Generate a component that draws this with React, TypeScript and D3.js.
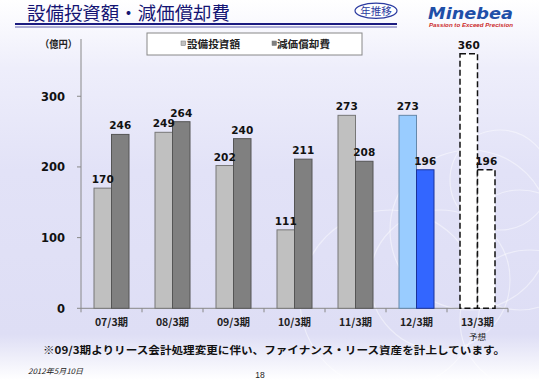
import React from "react";
import * as d3 from "d3";

const categories = ["07/3期", "08/3期", "09/3期", "10/3期", "11/3期", "12/3期", "13/3期"];
const capex = [170, 249, 202, 111, 273, 273, 360];
const depreciation = [246, 264, 240, 211, 208, 196, 196];
const yTicks = [0, 100, 200, 300];
const seriesNames = ["設備投資額", "減価償却費"];

const W = 539;
const H = 380;
const JP = "'Noto Sans CJK JP', sans-serif";
const NUM = "'DejaVu Sans', Verdana, sans-serif";

export default function App() {
  const x = d3.scaleBand<string>().domain(categories).range([81, 508]).paddingInner(0).paddingOuter(0);
  const y = d3.scaleLinear().domain([0, 381]).range([308.3, 39]);
  const bw = 17.5;
  const styleFor = (i: number, s: number) => {
    if (i === 5) return s === 0 ? { fill: "#99ccff", stroke: "#6688aa", dash: "" } : { fill: "#3366ff", stroke: "#1a3399", dash: "" };
    if (i === 6) return { fill: "#ffffff", stroke: "#111111", dash: "6,3" };
    return s === 0 ? { fill: "#c0c0c0", stroke: "#777777", dash: "" } : { fill: "#808080", stroke: "#555555", dash: "" };
  };
  const circles = [
    [470, 230, 80], [520, 250, 60], [440, 280, 70], [500, 180, 50], [390, 300, 90], [530, 320, 70],
  ];
  const bars = categories.flatMap((c, i) =>
    [capex[i], depreciation[i]].map((v, s) => ({ c, i, s, v, bx: x(c)! + x.bandwidth() / 2 - bw + s * bw }))
  );
  return (
    <svg width={W} height={H} style={{ position: "absolute", left: 0, top: 0 }}>
      <defs>
        <linearGradient id="bg" x1="0" y1="0" x2="0" y2="1">
          <stop offset="0" stopColor="#ffffff" />
          <stop offset="0.18" stopColor="#eeeefb" />
          <stop offset="0.45" stopColor="#e2e2f7" />
          <stop offset="0.88" stopColor="#dedef5" />
          <stop offset="1" stopColor="#ffffff" />
        </linearGradient>
      </defs>
      <rect x={0} y={0} width={W} height={H} fill="url(#bg)" />
      {circles.map(([cx, cy, r], k) => (
        <circle key={k} cx={cx} cy={cy} r={r} fill="none" stroke="#ffffff" strokeOpacity={0.45} strokeWidth={1.2} />
      ))}
      {/* title */}
      <text x={27} y={20} fontFamily={JP} fontSize={18.5} fill="#141473" textLength={203} lengthAdjust="spacingAndGlyphs">設備投資額・減価償却費</text>
      <line x1={15} x2={397} y1={24} y2={24} stroke="#1c1c80" strokeWidth={2.2} />
      <line x1={15} x2={397} y1={27} y2={27} stroke="#3a3a99" strokeWidth={0.8} />
      <ellipse cx={376} cy={10.8} rx={21} ry={7.6} fill="#ffffff" stroke="#2b3aa0" strokeWidth={1.2} />
      <text x={376} y={14.5} textAnchor="middle" fontFamily={JP} fontSize={10.5} fill="#2b3aa0">年推移</text>
      <text x={428} y={19} fontFamily="'DejaVu Sans', sans-serif" fontWeight="bold" fontStyle="italic" fontSize={15} fill="#1f4fa8" textLength={85} lengthAdjust="spacingAndGlyphs">Minebea</text>
      <text x={429} y={27} fontFamily="'Liberation Sans', Arial, sans-serif" fontWeight="bold" fontStyle="italic" fontSize={5.5} fill="#cc2a2a" textLength={84} lengthAdjust="spacingAndGlyphs">Passion to Exceed Precision</text>
      {/* legend */}
      <rect x={147} y={33} width={215} height={22} fill="#ffffff" stroke="#888888" />
      {seriesNames.map((n, s) => (
        <g key={n}>
          <rect x={181 + s * 91} y={41} width={4.5} height={4.5} fill={s === 0 ? "#c0c0c0" : "#808080"} stroke="#777" strokeWidth={0.5} />
          <text x={187 + s * 90} y={48} fontFamily={JP} fontWeight="bold" fontSize={10} fill="#222" textLength={53} lengthAdjust="spacingAndGlyphs">{n}</text>
        </g>
      ))}
      {/* y axis */}
      <text x={40} y={48} fontFamily={JP} fontWeight="bold" fontSize={10} fill="#222" textLength={37} lengthAdjust="spacingAndGlyphs">（億円）</text>
      <line x1={81} x2={81} y1={y(381)} y2={y(0)} stroke="#888" />
      {yTicks.map((t) => (
        <g key={t}>
          <line x1={77} x2={81} y1={y(t)} y2={y(t)} stroke="#888" />
          <text x={65} y={y(t) + 4.5} textAnchor="end" fontFamily={NUM} fontWeight="bold" fontSize={11.5} fill="#111">{t}</text>
        </g>
      ))}
      {/* x axis */}
      <line x1={81} x2={508} y1={y(0)} y2={y(0)} stroke="#888" />
      {categories.map((c, i) => {
        const x0 = x(c)!;
        return (
          <g key={c}>
            <line x1={x0 + x.bandwidth()} x2={x0 + x.bandwidth()} y1={y(0)} y2={y(0) + 4} stroke="#888" />
            {i === 0 && <line x1={x0} x2={x0} y1={y(0)} y2={y(0) + 4} stroke="#888" />}
            <text x={x0 + x.bandwidth() / 2} y={325.5} textAnchor="middle" fontFamily={JP} fontWeight="bold" fontSize={10.5} fill="#222">{c}</text>
            {i === 6 && (
              <text x={x0 + x.bandwidth() / 2} y={339.5} textAnchor="middle" fontFamily={JP} fontSize={8.5} fill="#222">予想</text>
            )}
          </g>
        );
      })}
      {/* bars */}
      {bars.map((b) => {
        const st = styleFor(b.i, b.s);
        return (
          <rect key={b.c + b.s} x={b.bx} y={y(b.v)} width={bw} height={y(0) - y(b.v)} fill={st.fill} stroke={st.stroke} strokeWidth={st.dash ? 1.5 : 1} strokeDasharray={st.dash || undefined} />
        );
      })}
      {bars.map((b) => (
        <text key={"l" + b.c + b.s} x={b.bx + bw / 2} y={y(b.v) - 5} textAnchor="middle" fontFamily={NUM} fontWeight="bold" fontSize={10.5} fill="#111">{b.v}</text>
      ))}
      {/* footnote */}
      <text x={43} y={354} fontFamily={JP} fontWeight="bold" fontSize={10.5} fill="#111" textLength={462} lengthAdjust="spacingAndGlyphs">※09/3期よりリース会計処理変更に伴い、ファイナンス・リース資産を計上しています。</text>
      <text x={28} y={374} fontFamily={JP} fontStyle="italic" fontSize={7.5} fill="#222" textLength={55} lengthAdjust="spacingAndGlyphs">2012年5月10日</text>
      <text x={260} y={378} textAnchor="middle" fontFamily="'Liberation Sans', Arial, sans-serif" fontSize={8.5} fill="#222">18</text>
    </svg>
  );
}
